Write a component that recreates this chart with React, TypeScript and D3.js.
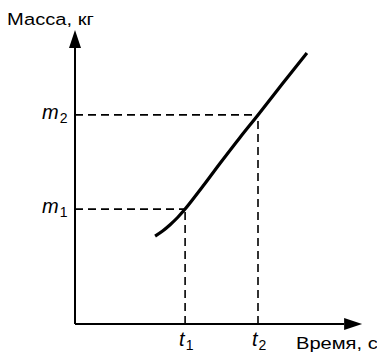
import React from "react";
import * as d3 from "d3";

// Кривая массы во времени (условные единицы)
const curveTime = [26.7, 29.2, 31.7, 34.2, 36.7, 43, 48.3, 55, 61, 69, 77.3];
const curveMass = [29.3, 31.0, 33.1, 35.5, 38.3, 46.4, 53.5, 62.2, 69.7, 79.9, 90.3];

// Отмеченные точки
const markTime = [36.7, 61];
const markMass = [38.3, 69.7];
const markIndex = ["1", "2"];

const axisTitleY = "Масса, кг";
const axisTitleX = "Время, с";

const W = 377;
const H = 353;
const font = "'Liberation Sans', Arial, Helvetica, sans-serif";

export default function App() {
  const x = d3.scaleLinear().domain([0, 100]).range([75, 375]);
  const y = d3.scaleLinear().domain([0, 100]).range([324, 24]);

  const xTip = x(95.7);
  const yTip = y(98);
  const head = 18;
  const half = 6;

  const line = d3
    .line<number>()
    .x((d, i) => x(curveTime[i]))
    .y((d) => y(d))
    .curve(d3.curveCatmullRom);

  const x0 = x(0);
  const y0 = y(0);

  return (
    <svg
      width={W}
      height={H}
      style={{ position: "absolute", left: 0, top: 0, background: "#fff" }}
      fontFamily={font}
    >
      {/* dashed guides */}
      {markTime.map((t, i) => (
        <g key={"g" + i} stroke="#000" strokeWidth={1.6} strokeDasharray="8,5" fill="none">
          <line x1={x0} y1={y(markMass[i])} x2={x(t)} y2={y(markMass[i])} />
          <line x1={x(t)} y1={y0} x2={x(t)} y2={y(markMass[i])} />
        </g>
      ))}

      {/* axes */}
      <line x1={x0} y1={y0} x2={x0} y2={yTip + head} stroke="#000" strokeWidth={2} />
      <line x1={x0} y1={y0} x2={xTip - head} y2={y0} stroke="#000" strokeWidth={2} />
      <path
        d={`M${x0},${yTip} L${x0 - half},${yTip + head} L${x0 + half},${yTip + head} Z`}
        fill="#000"
      />
      <path
        d={`M${xTip},${y0} L${xTip - head},${y0 - half} L${xTip - head},${y0 + half} Z`}
        fill="#000"
      />

      {/* curve */}
      <path d={line(curveMass) || ""} fill="none" stroke="#000" strokeWidth={3.2} />

      {/* m labels */}
      {markMass.map((m, i) => (
        <text key={"m" + i} x={42} y={y(m) + 4} fontSize={20} fill="#000">
          <tspan fontStyle="italic">m</tspan>
          <tspan fontSize={14} dy={4} dx={1}>
            {markIndex[i]}
          </tspan>
        </text>
      ))}

      {/* t labels */}
      {markTime.map((t, i) => (
        <text key={"t" + i} x={x(t) - 6} y={346} fontSize={20} fill="#000">
          <tspan fontStyle="italic">t</tspan>
          <tspan fontSize={14} dy={4} dx={1}>
            {markIndex[i]}
          </tspan>
        </text>
      ))}

      {/* axis titles */}
      <text transform="translate(7,25) scale(1.22,1)" fontSize={16.5} fill="#000">
        {axisTitleY}
      </text>
      <text transform="translate(296,349) scale(1.22,1)" fontSize={16.5} fill="#000">
        {axisTitleX}
      </text>
    </svg>
  );
}
